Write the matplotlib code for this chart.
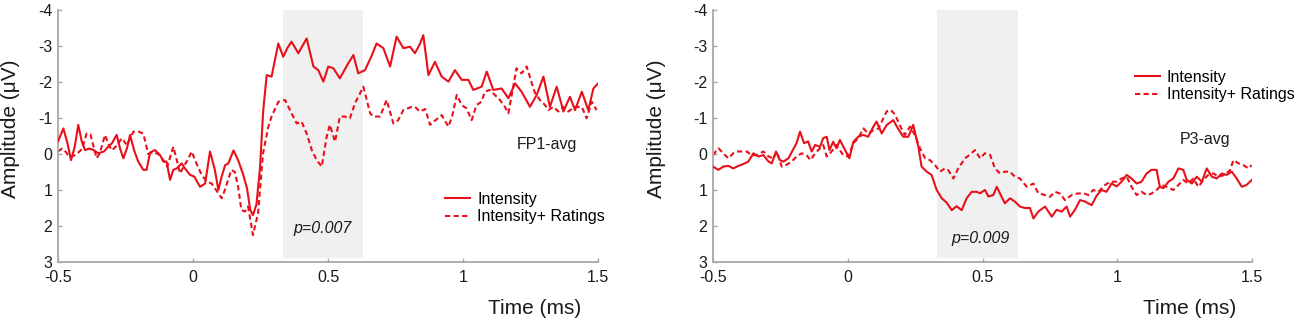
import matplotlib
matplotlib.use("Agg")
import matplotlib.pyplot as plt

plt.rcParams['font.family'] = ['Liberation Sans', 'DejaVu Sans']

# ---------------- data ----------------
x_ticks = [-0.5, 0, 0.5, 1, 1.5]
x_tick_labels = ["-0.5", "0", "0.5", "1", "1.5"]
y_ticks = [-4, -3, -2, -1, 0, 1, 2, 3]
y_tick_labels = ["-4", "-3", "-2", "-1", "0", "1", "2", "3"]
series_labels = ["Intensity", "Intensity+ Ratings"]
panel_names = ["FP1-avg", "P3-avg"]
p_values = ["p=0.007", "p=0.009"]
window = [0.333, 0.63]

fp1_int_t = [-0.500, -0.480, -0.465, -0.452, -0.438, -0.425, -0.412, -0.400, -0.385, -0.370,
             -0.351, -0.330, -0.314, -0.300, -0.283, -0.270, -0.258, -0.245, -0.233, -0.218,
             -0.203, -0.184, -0.172, -0.159, -0.141, -0.122, -0.110, -0.098, -0.085, -0.073,
             -0.060, -0.042, -0.030, -0.011, 0.005, 0.026, 0.045, 0.063, 0.081, 0.094,
             0.106, 0.119, 0.131, 0.150, 0.167, 0.185, 0.200, 0.212, 0.222, 0.235,
             0.248, 0.260, 0.273, 0.291, 0.316, 0.334, 0.350, 0.365, 0.390, 0.421,
             0.446, 0.464, 0.483, 0.501, 0.520, 0.544, 0.575, 0.594, 0.612, 0.637,
             0.660, 0.680, 0.705, 0.730, 0.754, 0.779, 0.804, 0.822, 0.840, 0.853,
             0.872, 0.896, 0.921, 0.946, 0.970, 0.995, 1.020, 1.038, 1.069, 1.088,
             1.112, 1.143, 1.168, 1.193, 1.217, 1.248, 1.273, 1.298, 1.322, 1.347,
             1.372, 1.396, 1.415, 1.440, 1.464, 1.483, 1.500]
fp1_int_v = [-0.35, -0.71, -0.30, 0.17, -0.20, -0.81, -0.35, -0.11, -0.15, -0.12,
             -0.02, -0.07, -0.20, -0.30, -0.53, -0.15, 0.12, -0.15, -0.53, -0.10,
             0.21, 0.44, 0.44, -0.04, -0.11, 0.03, 0.21, 0.21, 0.72, 0.44,
             0.40, 0.26, 0.40, 0.58, 0.63, 0.91, 0.82, -0.07, 0.44, 1.00,
             0.63, 0.31, 0.26, -0.10, 0.17, 0.55, 0.95, 1.55, 1.70, 1.40,
             0.40, -1.20, -2.19, -2.15, -3.07, -2.70, -2.95, -3.12, -2.80, -3.21,
             -2.43, -2.33, -2.01, -2.43, -2.38, -2.10, -2.52, -2.75, -2.24, -2.33,
             -2.70, -3.07, -2.94, -2.43, -3.26, -2.94, -2.98, -2.80, -3.05, -3.30,
             -2.19, -2.56, -2.15, -2.01, -2.33, -2.06, -2.06, -1.78, -1.87, -2.29,
             -1.78, -1.82, -1.55, -1.96, -1.73, -1.31, -1.64, -2.15, -1.31, -1.87,
             -1.18, -1.59, -1.22, -1.73, -1.22, -1.82, -1.96]

fp1_rat_t = [-0.500, -0.485, -0.470, -0.460, -0.449, -0.430, -0.410, -0.394, -0.380, -0.368,
             -0.357, -0.345, -0.326, -0.312, -0.300, -0.280, -0.264, -0.245, -0.221, -0.202,
             -0.184, -0.166, -0.148, -0.128, -0.110, -0.095, -0.073, -0.060, -0.048, -0.035,
             -0.020, -0.005, 0.012, 0.032, 0.050, 0.069, 0.090, 0.106, 0.118, 0.130,
             0.142, 0.155, 0.167, 0.179, 0.192, 0.204, 0.222, 0.241, 0.259, 0.279,
             0.291, 0.316, 0.341, 0.365, 0.384, 0.402, 0.421, 0.440, 0.458, 0.477,
             0.495, 0.507, 0.526, 0.544, 0.563, 0.581, 0.600, 0.631, 0.656, 0.668,
             0.693, 0.717, 0.742, 0.760, 0.779, 0.810, 0.822, 0.840, 0.860, 0.878,
             0.900, 0.921, 0.946, 0.960, 0.977, 0.995, 1.013, 1.032, 1.050, 1.068,
             1.081, 1.100, 1.118, 1.137, 1.155, 1.168, 1.186, 1.198, 1.217, 1.236,
             1.255, 1.267, 1.285, 1.304, 1.316, 1.335, 1.353, 1.372, 1.390, 1.415,
             1.440, 1.458, 1.477, 1.495]
fp1_rat_v = [-0.07, -0.15, -0.05, 0.07, 0.07, 0.00, -0.15, -0.57, -0.55, -0.20,
             0.12, -0.02, -0.53, -0.25, -0.10, -0.25, -0.44, -0.25, -0.62, -0.62,
             -0.57, 0.00, -0.05, 0.00, 0.17, 0.35, -0.20, 0.17, 0.54, 0.35,
             0.17, -0.07, 0.25, 0.58, 0.76, 0.82, 1.05, 1.23, 1.00, 0.72,
             0.44, 0.50, 0.90, 1.55, 1.60, 1.46, 2.25, 1.65, 0.00, -0.76,
             -1.04, -1.45, -1.50, -1.13, -0.85, -0.90, -0.57, -0.11, 0.17, 0.35,
             -0.48, -0.81, -0.34, -1.04, -1.04, -0.99, -1.41, -1.87, -1.13, -1.04,
             -1.04, -1.50, -0.85, -0.94, -1.22, -1.31, -1.31, -1.18, -1.25, -0.81,
             -0.95, -1.08, -0.76, -1.05, -1.64, -1.36, -1.27, -0.94, -1.36, -1.45,
             -1.73, -1.78, -1.64, -1.50, -1.31, -1.13, -1.87, -2.38, -2.24, -2.43,
             -1.96, -1.69, -1.50, -1.36, -1.22, -1.31, -1.18, -1.31, -1.18, -1.31,
             -1.31, -0.99, -1.45, -1.22]

p3_int_t = [-0.500, -0.480, -0.462, -0.443, -0.425, -0.406, -0.388, -0.369, -0.350, -0.332,
            -0.313, -0.294, -0.282, -0.266, -0.252, -0.239, -0.220, -0.204, -0.190, -0.177,
            -0.162, -0.147, -0.134, -0.121, -0.103, -0.091, -0.078, -0.068, -0.054, -0.042,
            -0.029, -0.016, 0.006, 0.021, 0.039, 0.058, 0.076, 0.095, 0.107, 0.126,
            0.145, 0.169, 0.187, 0.206, 0.225, 0.243, 0.262, 0.274, 0.293, 0.311,
            0.330, 0.349, 0.367, 0.386, 0.404, 0.423, 0.441, 0.460, 0.478, 0.491,
            0.509, 0.522, 0.540, 0.553, 0.571, 0.583, 0.602, 0.620, 0.639, 0.657,
            0.676, 0.689, 0.707, 0.732, 0.757, 0.775, 0.794, 0.812, 0.825, 0.843,
            0.862, 0.880, 0.905, 0.924, 0.942, 0.960, 0.979, 0.998, 1.016, 1.035,
            1.053, 1.072, 1.090, 1.109, 1.127, 1.146, 1.158, 1.171, 1.190, 1.208,
            1.227, 1.245, 1.258, 1.277, 1.295, 1.314, 1.332, 1.351, 1.369, 1.388,
            1.406, 1.425, 1.443, 1.462, 1.480, 1.499]
p3_int_v = [0.35, 0.44, 0.35, 0.33, 0.40, 0.33, 0.28, 0.21, -0.02, 0.07,
            0.03, 0.21, 0.26, -0.07, 0.17, 0.21, 0.12, -0.11, -0.30, -0.62,
            -0.30, -0.35, -0.07, -0.25, -0.20, -0.44, -0.48, -0.11, -0.34, -0.16,
            -0.39, -0.20, 0.12, -0.34, -0.48, -0.53, -0.48, -0.76, -0.90, -0.57,
            -0.81, -0.94, -0.70, -0.48, -0.48, -0.81, -0.20, 0.35, 0.49, 0.58,
            1.00, 1.23, 1.35, 1.56, 1.45, 1.56, 1.23, 1.05, 1.05, 1.09,
            1.00, 1.18, 1.14, 0.91, 1.19, 1.37, 1.23, 1.32, 1.46, 1.50,
            1.50, 1.79, 1.60, 1.46, 1.74, 1.55, 1.60, 1.46, 1.74, 1.55,
            1.28, 1.32, 1.42, 1.15, 1.00, 1.05, 0.82, 0.90, 0.77, 0.58,
            0.68, 0.82, 0.77, 0.54, 0.44, 0.44, 0.91, 0.95, 0.77, 0.68,
            0.40, 0.44, 0.72, 0.82, 0.63, 0.77, 0.40, 0.63, 0.68, 0.54,
            0.58, 0.49, 0.68, 0.91, 0.86, 0.72]

p3_rat_t = [-0.500, -0.480, -0.462, -0.443, -0.425, -0.412, -0.394, -0.375, -0.357, -0.338,
            -0.313, -0.294, -0.276, -0.263, -0.245, -0.227, -0.208, -0.190, -0.171, -0.153,
            -0.138, -0.121, -0.103, -0.091, -0.078, -0.060, -0.042, -0.017, 0.002, 0.021,
            0.039, 0.058, 0.076, 0.095, 0.114, 0.132, 0.145, 0.160, 0.175, 0.193,
            0.212, 0.231, 0.249, 0.268, 0.287, 0.305, 0.324, 0.342, 0.361, 0.373,
            0.392, 0.410, 0.435, 0.453, 0.472, 0.491, 0.509, 0.528, 0.546, 0.565,
            0.583, 0.602, 0.620, 0.639, 0.664, 0.689, 0.707, 0.732, 0.750, 0.769,
            0.788, 0.806, 0.831, 0.850, 0.874, 0.893, 0.911, 0.930, 0.955, 0.974,
            0.998, 1.016, 1.035, 1.053, 1.072, 1.090, 1.109, 1.127, 1.146, 1.164,
            1.183, 1.208, 1.227, 1.245, 1.264, 1.282, 1.301, 1.320, 1.338, 1.357,
            1.375, 1.400, 1.419, 1.431, 1.450, 1.468, 1.487, 1.499]
p3_rat_v = [0.03, -0.16, -0.02, 0.12, -0.02, -0.07, -0.07, -0.07, 0.03, 0.03,
            -0.07, 0.07, 0.12, -0.07, 0.35, 0.30, 0.21, 0.07, -0.02, 0.03,
            0.17, -0.02, -0.16, -0.25, 0.07, -0.07, -0.25, 0.03, 0.07, -0.30,
            -0.44, -0.71, -0.57, -0.66, -0.71, -0.99, -1.19, -1.22, -1.10, -0.80,
            -0.53, -0.76, -0.53, -0.16, 0.12, 0.17, 0.31, 0.49, 0.40, 0.45,
            0.68, 0.40, 0.12, 0.02, -0.11, 0.12, -0.02, 0.02, 0.40, 0.54,
            0.49, 0.49, 0.63, 0.68, 0.91, 0.82, 1.09, 1.14, 1.19, 1.05,
            1.10, 1.28, 1.14, 1.10, 1.09, 1.14, 1.00, 1.05, 0.86, 0.77,
            0.77, 0.68, 0.63, 0.91, 1.14, 1.05, 1.14, 1.10, 1.00, 0.86,
            0.91, 1.00, 0.86, 0.72, 0.82, 0.68, 0.91, 0.72, 0.58, 0.54,
            0.63, 0.58, 0.44, 0.17, 0.26, 0.31, 0.40, 0.31]

# ---------------- styling ----------------
RED = "#e8101a"
AXC = "#a8a8a8"
SHADE = "#f0f0f0"

fig = plt.figure(figsize=(13.0, 3.21), dpi=100)
ax1 = fig.add_axes([58 / 1300, 59 / 321, 540 / 1300, 252 / 321])
ax2 = fig.add_axes([713 / 1300, 59 / 321, 539 / 1300, 252 / 321])

panels = [
    (ax1, fp1_int_t, fp1_int_v, fp1_rat_t, fp1_rat_v, panel_names[0], p_values[0],
     (1.311, -0.25), (0.478, 2.06), (0.717, 0.278)),
    (ax2, p3_int_t, p3_int_v, p3_rat_t, p3_rat_v, panel_names[1], p_values[1],
     (1.326, -0.39), (0.491, 2.36), (0.783, 0.762)),
]

for ax, ti, vi, tr, vr, name, pv, name_pos, p_pos, leg_pos in panels:
    ax.fill_between(window, -4, 2.9, color=SHADE, lw=0, zorder=0)
    ax.plot(ti, vi, color=RED, lw=1.5, label=series_labels[0], zorder=3)
    ax.plot(tr, vr, color=RED, lw=1.5, ls=(0, (2.5, 1.6)), label=series_labels[1], zorder=2)
    ax.set_xlim(-0.5, 1.5)
    ax.set_ylim(3, -4)
    ax.set_xticks(x_ticks)
    ax.set_xticklabels(x_tick_labels)
    ax.set_yticks(y_ticks)
    ax.set_yticklabels(y_tick_labels)
    for s in ["top", "right"]:
        ax.spines[s].set_visible(False)
    for s in ["left", "bottom"]:
        ax.spines[s].set_color(AXC)
        ax.spines[s].set_linewidth(1.3)
    ax.tick_params(axis="both", colors=AXC, labelcolor="#1a1a1a", labelsize=11.5,
                   length=3, width=1.0, direction="in")
    ax.tick_params(axis="y", pad=4)
    ax.tick_params(axis="x", pad=6)
    ax.set_ylabel("Amplitude (\u03bcV)", fontsize=15, color="#1a1a1a")
    ax.set_xlabel("Time (ms)", fontsize=15, color="#1a1a1a")
    ax.text(name_pos[0], name_pos[1], name, fontsize=11.5, ha="center", va="center",
            color="#1a1a1a")
    ax.text(p_pos[0], p_pos[1], pv, fontsize=11.5, ha="center", va="center",
            style="italic", color="#1a1a1a")
    ax.legend(loc="upper left", bbox_to_anchor=leg_pos, frameon=False, fontsize=11.5,
              handlelength=1.55, handletextpad=0.45, labelspacing=0.15,
              borderpad=0, borderaxespad=0)
    ax.patch.set_alpha(0)

ax1.yaxis.set_label_coords(-0.070, 0.53)
ax2.yaxis.set_label_coords(-0.088, 0.53)
ax1.xaxis.set_label_coords(0.883, -0.148)
ax2.xaxis.set_label_coords(0.885, -0.148)

fig.savefig("out.png", dpi=100, facecolor="white")
